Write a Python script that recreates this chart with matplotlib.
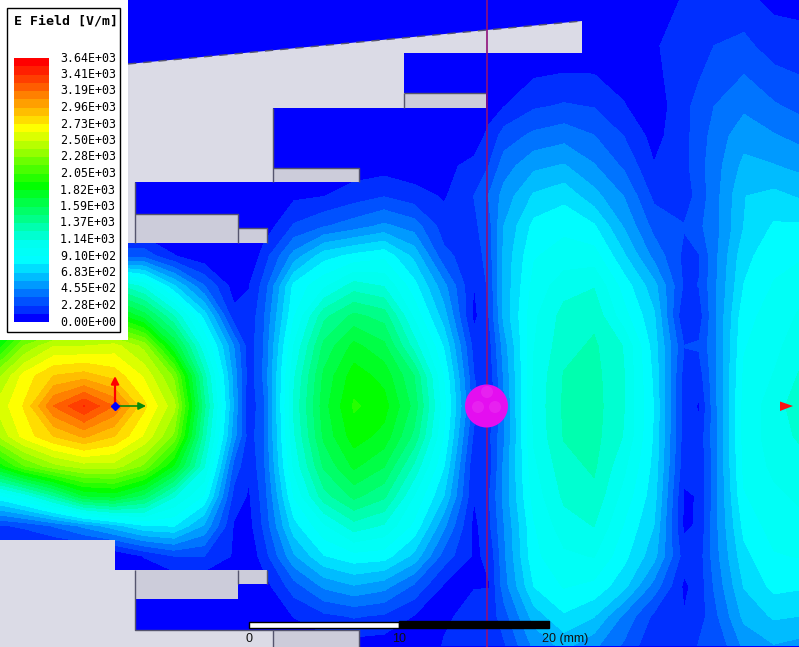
"""E field magnitude plot in the style of an HFSS screenshot."""

import matplotlib
matplotlib.use("Agg")  # headless rendering
import matplotlib.pyplot as plt
import numpy as np
from matplotlib.colors import LinearSegmentedColormap, ListedColormap
from matplotlib.patches import Circle, Polygon, Rectangle

# field samples, V/m, positioned in screenshot pixels
FIELD_X = [-6, 24, 54, 84, 114, 144, 174, 204, 234, 264, 294, 324, 354, 384,
           414, 444, 474, 504, 534, 564, 594, 624, 654, 684, 714, 744, 774, 804]
FIELD_Y = [-14, 46, 106, 136, 166, 196, 226, 256, 286, 316, 346, 376, 406, 436,
           466, 496, 526, 556, 586, 616, 646]

ROW_M14 = [0, 0, 0, 0, 0, 0, 0, 0, 0, 0, 0, 0, 0, 0, 0, 0, 0, 0, 0, 0, 0, 0, 10, 110, 150, 115, 60, 60]
ROW_46 = [0, 0, 0, 0, 0, 0, 0, 0, 0, 0, 0, 0, 0, 0, 0, 0, 0, 0, 0, 10, 20, 40, 100, 170, 228, 260, 170, 150]
ROW_106 = [0, 0, 0, 0, 0, 0, 0, 0, 0, 0, 0, 0, 0, 0, 0, 0, 30, 110, 210, 240, 220, 120, 40, 200, 340, 430, 355, 300]
ROW_136 = [0, 0, 0, 0, 0, 0, 0, 0, 0, 0, 0, 0, 0, 0, 0, 20, 60, 280, 370, 410, 345, 225, 70, 200, 390, 520, 465, 410]
ROW_166 = [0, 0, 0, 0, 0, 0, 0, 0, 0, 0, 0, 20, 50, 60, 40, 90, 140, 400, 540, 580, 465, 320, 120, 190, 400, 600, 575, 530]
ROW_196 = [0, 0, 0, 0, 0, 0, 0, 0, 0, 0, 90, 110, 170, 220, 160, 100, 230, 500, 700, 760, 610, 450, 200, 150, 400, 680, 715, 660]
ROW_226 = [0, 0, 0, 0, 0, 0, 0, 0, 0, 40, 240, 330, 400, 480, 400, 170, 200, 570, 830, 880, 810, 555, 300, 235, 400, 683, 810, 810]
ROW_256 = [300, 300, 300, 300, 300, 300, 120, 30, 0, 170, 500, 750, 830, 880, 650, 260, 160, 600, 900, 960, 960, 700, 420, 200, 410, 760, 870, 900]
ROW_286 = [1000, 1100, 1200, 1300, 1300, 1100, 700, 350, 60, 270, 830, 1000, 1190, 1130, 840, 490, 110, 600, 950, 1090, 1130, 860, 610, 210, 420, 800, 920, 1000]
ROW_316 = [1500, 1800, 1900, 2000, 1900, 1650, 1250, 750, 150, 330, 900, 1330, 1510, 1430, 1000, 620, 80, 600, 1000, 1180, 1220, 950, 700, 120, 420, 870, 960, 1050]
ROW_346 = [1800, 2280, 2500, 2500, 2550, 2350, 1700, 1050, 450, 350, 1030, 1510, 1740, 1620, 1200, 780, 180, 510, 1020, 1210, 1270, 1130, 740, 230, 420, 900, 990, 1110]
ROW_376 = [2300, 2660, 2850, 2900, 2800, 2600, 2250, 1300, 520, 360, 1120, 1620, 1880, 1780, 1480, 900, 230, 470, 1040, 1260, 1290, 1140, 770, 180, 410, 930, 1030, 1170]
ROW_406 = [2500, 2740, 3190, 3420, 3180, 2760, 2430, 1400, 550, 330, 1160, 1660, 1950, 1870, 1550, 950, 280, 440, 1050, 1270, 1300, 1140, 790, 170, 400, 950, 1080, 1230]
ROW_436 = [2350, 2660, 2850, 2980, 2850, 2600, 2250, 1300, 500, 340, 1120, 1620, 1880, 1780, 1450, 900, 200, 440, 1040, 1260, 1290, 1130, 780, 170, 390, 950, 1080, 1170]
ROW_466 = [1800, 2150, 2350, 2450, 2450, 2250, 1800, 1150, 300, 320, 1050, 1500, 1730, 1600, 1230, 800, 130, 480, 1000, 1210, 1270, 1050, 760, 150, 390, 940, 1050, 1100]
ROW_496 = [850, 1050, 1350, 1700, 1750, 1550, 1150, 900, 180, 280, 920, 1320, 1510, 1390, 1020, 680, 120, 490, 960, 1160, 1220, 980, 730, 100, 390, 900, 1000, 1050]
ROW_526 = [200, 250, 350, 480, 630, 780, 800, 550, 100, 250, 750, 1000, 1200, 1120, 880, 480, 80, 450, 900, 1090, 1140, 900, 680, 90, 400, 830, 960, 1000]
ROW_556 = [0, 0, 0, 0, 0, 120, 230, 230, 100, 170, 550, 790, 870, 850, 650, 290, 100, 430, 880, 1000, 1030, 830, 610, 170, 390, 760, 900, 920]
ROW_586 = [0, 0, 0, 0, 0, 0, 0, 0, 0, 60, 290, 480, 560, 500, 320, 100, 110, 400, 800, 920, 880, 720, 410, 90, 350, 690, 830, 810]
ROW_616 = [0, 0, 0, 0, 0, 0, 0, 0, 0, 0, 120, 200, 240, 210, 110, 100, 140, 290, 620, 780, 690, 430, 200, 120, 300, 600, 700, 680]
ROW_646 = [0, 0, 0, 0, 0, 0, 0, 0, 0, 0, 20, 50, 60, 50, 40, 120, 170, 210, 480, 600, 480, 320, 130, 120, 230, 480, 560, 520]

FIELD_ROWS = [ROW_M14, ROW_46, ROW_106, ROW_136, ROW_166, ROW_196, ROW_226,
              ROW_256, ROW_286, ROW_316, ROW_346, ROW_376, ROW_406, ROW_436,
              ROW_466, ROW_496, ROW_526, ROW_556, ROW_586, ROW_616, ROW_646]

# extra columns read along the dark valleys between the lobes, same FIELD_Y order
VALLEY_X = [249, 489, 699]
VALLEY_249 = [0, 0, 0, 0, 0, 0, 0, 0, 110, 140, 160, 160, 130, 160, 130, 100, 70, 30, 0, 0, 0]
VALLEY_489 = [0, 0, 70, 140, 230, 350, 300, 280, 250, 230, 180, 150, 100, 200, 170, 220, 200, 130, 110, 160, 180]
VALLEY_699 = [120, 180, 260, 270, 300, 280, 320, 220, 230, 170, 240, 170, 100, 150, 140, 120, 130, 170, 160, 170, 240]

LEGEND_LABELS = ["3.64E+03", "3.41E+03", "3.19E+03", "2.96E+03", "2.73E+03",
                 "2.50E+03", "2.28E+03", "2.05E+03", "1.82E+03", "1.59E+03",
                 "1.37E+03", "1.14E+03", "9.10E+02", "6.83E+02", "4.55E+02",
                 "2.28E+02", "0.00E+00"]
FIELD_MAX = 3640.0
N_BANDS = 32

# model outline, screenshot pixels
TOP_BODY = [(0, 76), (128, 64), (582, 21), (582, 53), (404, 53), (404, 108),
            (273, 108), (273, 182), (135, 182), (135, 243), (0, 243)]
BOTTOM_BODY = [(0, 540), (115, 540), (115, 570), (135, 570), (135, 630),
               (273, 630), (273, 647), (0, 647)]
# x0, y0, x1, y1
SHADED_RECTS = [(135, 214, 238, 243), (238, 228, 267, 243), (404, 93, 486, 108),
                (273, 168, 359, 182), (135, 570, 238, 599), (238, 570, 267, 584),
                (273, 630, 359, 647)]

LIGHT_GREY = "#dbdbe6"
SHADE_GREY = "#ccccda"
EDGE_GREY = "#55556e"

# band index -> colour, cyan stays almost flat for a few bands like the original
COLOR_STOPS = [(0, "#0000ff"), (1, "#0030ff"), (6, "#00e0ff"), (7, "#00ffff"),
               (9, "#00fff0"), (10, "#00ffd0"), (16, "#00ff00"), (23, "#ffff00"),
               (31, "#ff0000")]
ramp = LinearSegmentedColormap.from_list(
    "hfss", [(i / (N_BANDS - 1), c) for i, c in COLOR_STOPS])
band_cmap = ListedColormap([ramp(i / (N_BANDS - 1)) for i in range(N_BANDS)])
levels = np.linspace(0, FIELD_MAX, N_BANDS + 1)

# merge valley columns into the grid, x has to stay sorted
grid_x = np.array(FIELD_X + VALLEY_X, dtype=float)
grid_z = np.column_stack([np.array(FIELD_ROWS, dtype=float), VALLEY_249, VALLEY_489, VALLEY_699])
order = np.argsort(grid_x)

fig = plt.figure(figsize=(7.99, 6.47), dpi=100)
ax = fig.add_axes([0, 0, 1, 1])
ax.set_xlim(0, 799)
ax.set_ylim(647, 0)
ax.axis("off")

ax.contourf(grid_x[order], FIELD_Y, grid_z[:, order], levels=levels,
            cmap=band_cmap, extend="both", antialiased=False, zorder=1)

# geometry
ax.add_patch(Polygon(TOP_BODY, closed=True, fc=LIGHT_GREY, ec="none", zorder=2))
ax.add_patch(Polygon(BOTTOM_BODY, closed=True, fc=LIGHT_GREY, ec="none", zorder=2))
for x0, y0, x1, y1 in SHADED_RECTS:
    ax.add_patch(Rectangle((x0, y0), x1 - x0, y1 - y0, fc=SHADE_GREY, ec="none", zorder=3))
ax.plot([128, 582], [64, 21], color=EDGE_GREY, lw=1, ls=(0, (6, 5)), zorder=4)
edge_lines = [([135, 135, 359, 359], [570, 630, 630, 647]),
              ([135, 135], [182, 243]),
              ([273, 273], [108, 182]),
              ([273, 359, 359], [168, 168, 182]),
              ([404, 404], [93, 108]),
              ([404, 486], [93, 93]),
              ([135, 238, 238], [214, 214, 243]),
              ([238, 267, 267], [228, 228, 243]),
              ([238, 238], [570, 584]),
              ([267, 267], [570, 584]),
              ([273, 273], [630, 647])]
for xs, ys in edge_lines:
    ax.plot(xs, ys, color=EDGE_GREY, lw=1, zorder=4, solid_capstyle="butt")

# purple probe line and sphere
ax.axvline(486.5, color="#90107a", lw=1.2, zorder=5)
ax.add_patch(Circle((486.5, 406), 21.5, fc="#e40ef0", ec="none", zorder=6))
for cx, cy in [(487, 392), (478, 407), (495, 407)]:
    ax.add_patch(Circle((cx, cy), 6, fc="#f050f0", ec="none", alpha=0.3, zorder=7))

# coordinate triad
ax.annotate("", xy=(115, 376), xytext=(115, 406), zorder=8,
            arrowprops=dict(arrowstyle="-|>", color="#ff0000", lw=1.6, mutation_scale=11, shrinkA=0, shrinkB=0))
ax.annotate("", xy=(146, 406), xytext=(115, 406), zorder=8,
            arrowprops=dict(arrowstyle="-|>", color="#0a8a0a", lw=1.2, mutation_scale=11, shrinkA=0, shrinkB=0))
ax.plot([115], [406], marker="D", ms=4.5, color="#0000ff", zorder=9)

# port marker at the right edge
ax.add_patch(Polygon([(780, 401.5), (780, 411), (793, 406)], closed=True, fc="#ff1010", ec="none", zorder=8))

# scale bar
ax.add_patch(Rectangle((249, 621.5), 150, 6, fc="white", ec="black", lw=1, zorder=8))
ax.add_patch(Rectangle((399, 621), 150, 6.5, fc="black", ec="black", lw=1, zorder=8))
for x, label, ha in [(249, "0", "center"), (399, "10", "center"), (542, "20 (mm)", "left")]:
    ax.text(x, 639, label, ha=ha, va="center", fontsize=9, family="Liberation Sans",
            color="#111111", zorder=9)

# legend panel
ax.add_patch(Rectangle((0, 0), 128, 340, fc="white", ec="none", zorder=10))
ax.add_patch(Rectangle((6.5, 7.5), 113.5, 324.5, fc="white", ec="black", lw=1, zorder=11))
ax.text(14, 21.5, "E Field [V/m]", ha="left", va="center", fontsize=9.5,
        family="DejaVu Sans Mono", weight="bold", zorder=12)
legend_edges = np.linspace(322, 58, N_BANDS + 1)
for i in range(N_BANDS):
    ax.add_patch(Rectangle((14, legend_edges[i + 1]), 35, legend_edges[i] - legend_edges[i + 1],
                           fc=band_cmap(i), ec="none", zorder=12))
for y, label in zip(np.linspace(58, 322, len(LEGEND_LABELS)), LEGEND_LABELS):
    ax.text(116, y, label, ha="right", va="center", fontsize=8.4,
            family="DejaVu Sans Mono", zorder=12)

fig.savefig("out.png", dpi=100, facecolor="#0000ff")
plt.close(fig)
